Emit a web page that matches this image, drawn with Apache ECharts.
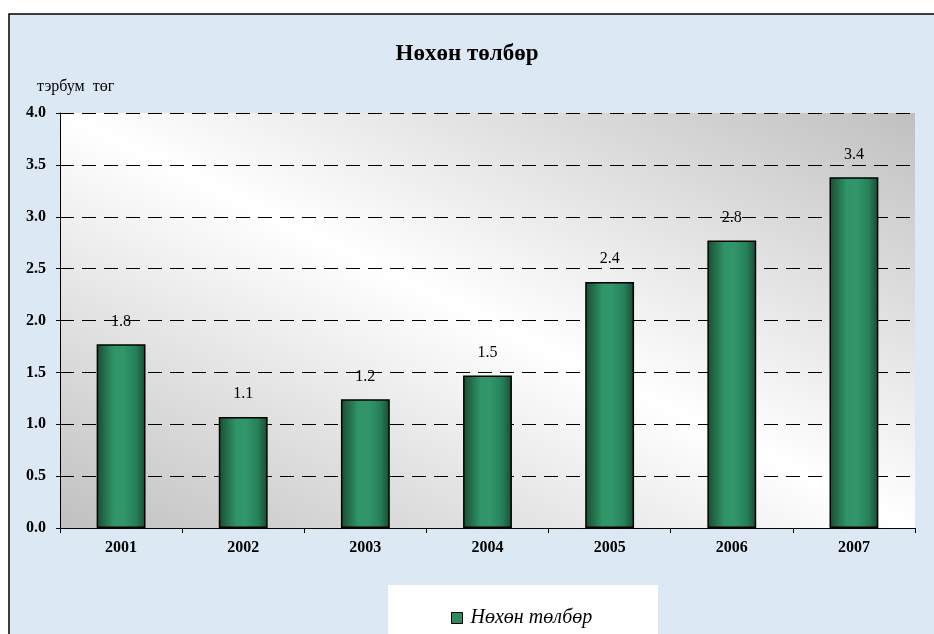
<!DOCTYPE html>
<html>
<head>
<meta charset="utf-8">
<script src="https://cdn.jsdelivr.net/npm/echarts@6/dist/echarts.min.js"></script>
<style>
  html, body { margin: 0; padding: 0; background: #fff; }
  #chart { width: 934px; height: 634px; }
</style>
</head>
<body>
<div id="chart"></div>
<script>
const years = ['2001', '2002', '2003', '2004', '2005', '2006', '2007']
const payments = [1.77, 1.07, 1.24, 1.47, 2.37, 2.77, 3.38]
const labels = ['1.8', '1.1', '1.2', '1.5', '2.4', '2.8', '3.4']

const serif = '"Liberation Serif", "DejaVu Serif", serif'

const chart = echarts.init(document.getElementById('chart'))

chart.setOption({
  backgroundColor: '#fff',
  textStyle: { fontFamily: serif },
  graphic: [
    {
      type: 'rect',
      z: -10,
      shape: { x: 9, y: 14, width: 935, height: 630 },
      style: { fill: '#dde8f5', stroke: '#000', lineWidth: 1.5 }
    },
    {
      type: 'rect',
      z: -5,
      shape: { x: 388, y: 585, width: 270, height: 60 },
      style: { fill: '#fff' }
    }
  ],
  title: {
    text: 'Нөхөн төлбөр',
    left: 'center',
    top: 38,
    textStyle: { fontFamily: serif, fontSize: 23, fontWeight: 'bold', color: '#000' }
  },
  legend: {
    data: ['Нөхөн төлбөр'],
    left: 446,
    top: 603,
    icon: 'rect',
    itemWidth: 11,
    itemHeight: 11,
    itemGap: 5,
    itemStyle: { color: '#2e8b5e', borderColor: '#000', borderWidth: 1 },
    textStyle: { fontFamily: serif, fontSize: 20, fontStyle: 'italic', color: '#000', padding: [0, 0, 0, 3] }
  },
  grid: {
    left: 60,
    right: 19,
    top: 113,
    bottom: 106,
    show: true,
    borderWidth: 0,
    backgroundColor: {
      type: 'linear', x: 0.309, y: 1.309, x2: 0.691, y2: -0.309,
      colorStops: [
        { offset: 0, color: '#c0c0c0' },
        { offset: 0.5, color: '#ffffff' },
        { offset: 1, color: '#c0c0c0' }
      ]
    }
  },
  xAxis: {
    type: 'category',
    data: years,
    axisLine: { lineStyle: { color: '#000', width: 1 } },
    axisTick: { show: true, length: 5, lineStyle: { color: '#000' } },
    axisLabel: { fontFamily: serif, fontSize: 16, fontWeight: 'bold', color: '#000', margin: 12 }
  },
  yAxis: {
    type: 'value',
    min: 0,
    max: 4,
    interval: 0.5,
    name: 'тэрбум  төг',
    nameGap: 18,
    nameTextStyle: { fontFamily: serif, fontSize: 16, color: '#000', align: 'left', padding: [0, 0, 0, -23] },
    axisLine: { show: true, lineStyle: { color: '#000', width: 1 } },
    axisTick: { show: true, length: 4, lineStyle: { color: '#000' } },
    axisLabel: {
      fontFamily: serif, fontSize: 16, fontWeight: 'bold', color: '#000', margin: 14,
      formatter: v => v.toFixed(1)
    },
    splitLine: { lineStyle: { color: '#000', width: 1, type: [14, 8] } }
  },
  series: [
    {
      name: 'Нөхөн төлбөр',
      type: 'bar',
      data: payments,
      barWidth: '40%',
      itemStyle: {
        borderColor: '#000',
        borderWidth: 1.5,
        color: {
          type: 'linear', x: 0, y: 0, x2: 1, y2: 0,
          colorStops: [
            { offset: 0, color: '#1a4c32' },
            { offset: 0.35, color: '#2f9466' },
            { offset: 0.55, color: '#32966a' },
            { offset: 0.8, color: '#26805a' },
            { offset: 1, color: '#1a4a31' }
          ]
        }
      },
      label: {
        show: true,
        position: 'top',
        distance: 15,
        fontFamily: serif,
        fontSize: 16,
        color: '#000',
        formatter: p => labels[p.dataIndex]
      }
    }
  ]
})
</script>
</body>
</html>
